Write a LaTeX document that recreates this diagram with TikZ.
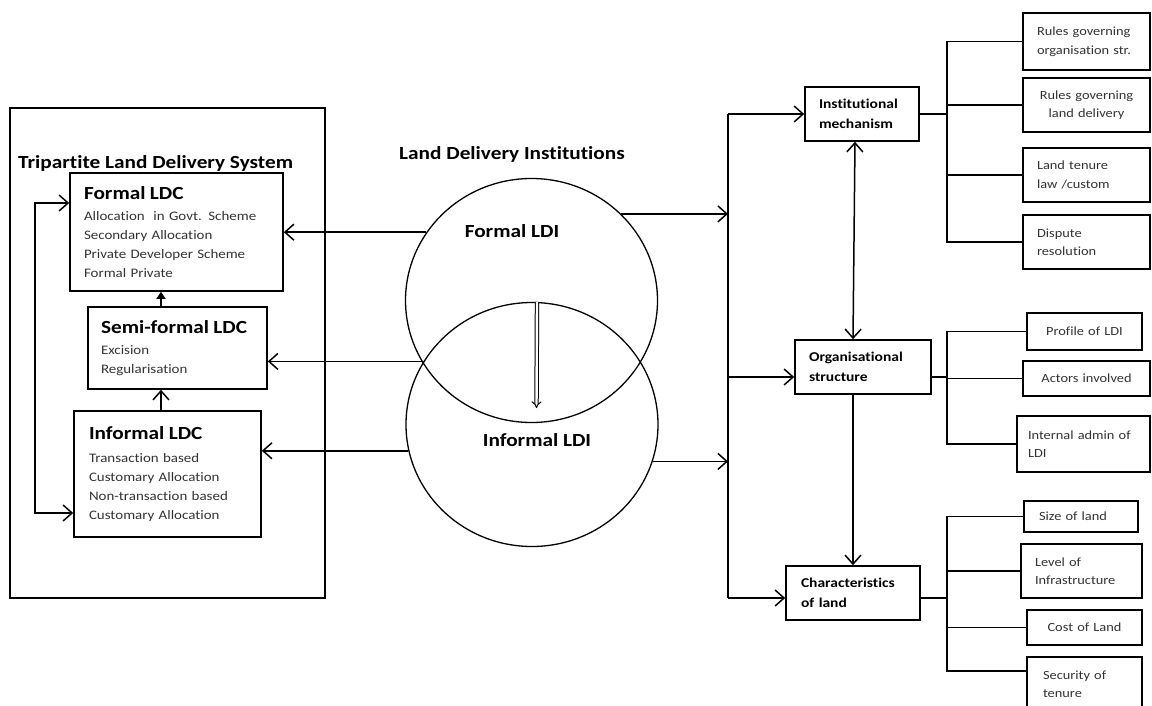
\documentclass[tikz,border=0pt]{standalone}
\usepackage{fontspec}
\setmainfont{Carlito}[FakeStretch=1.15, Ligatures={NoCommon}]
\usetikzlibrary{arrows.meta,shapes.geometric}
\definecolor{txt}{HTML}{333333}
\begin{document}
\begin{tikzpicture}[x=1pt,y=-1pt,
  every node/.style={inner sep=0pt},
  frame/.style={draw, line width=1.6pt},
  ttl/.style={font=\fontsize{18.5}{22}\selectfont\bfseries},
  ldc/.style={frame, align=left, font=\fontsize{13}{19}\selectfont, text=txt},
  mid/.style={frame, align=left, font=\fontsize{13.5}{20}\selectfont\bfseries, minimum height=54pt},
  leaf/.style={frame, font=\fontsize{12.5}{18.5}\selectfont, text=txt},
  circ/.style={draw, line width=1.3pt, ellipse, minimum width=252pt, minimum height=244pt},
  con/.style={line width=1.5pt},
  arr/.style={con, -{Straight Barb[length=9pt,width=16pt]}},
  dbl/.style={con, {Straight Barb[length=9pt,width=16pt]}-{Straight Barb[length=9pt,width=16pt]}}
]
\useasboundingbox (0,0) rectangle (1152,706);
\clip (0,0) rectangle (1152,706);

% left system frame
\node[frame, minimum width=315pt, minimum height=490pt] (tlds) at (167.5,353) {};
\node[ttl, anchor=west] (tldst) at (18,163) {Tripartite Land Delivery System};

\node[ldc, text width=185pt, inner xsep=14pt, minimum height=118pt] (fldc) at (176.5,232)
  {{\color{black}\fontsize{18.5}{22}\selectfont\bfseries Formal LDC}\\[2pt]
   Allocation\ \ in Govt. Scheme\\ Secondary Allocation\\ Private Developer Scheme\\ Formal Private};
\node[ldc, text width=153pt, inner xsep=13pt, minimum height=82pt] (sldc) at (177.5,348)
  {{\color{black}\fontsize{18.5}{22}\selectfont\bfseries Semi-formal LDC}\\[2pt]
   Excision\\ Regularisation};
\node[ldc, text width=157pt, inner xsep=15pt, minimum height=126pt] (ildc) at (167.5,474)
  {{\color{black}\fontsize{18.5}{22}\selectfont\bfseries Informal LDC}\\[4pt]
   Transaction based\\ Customary Allocation\\ Non-transaction based\\ Customary Allocation};

% circles
\node[ttl, anchor=west] (ldit) at (399,154) {Land Delivery Institutions};
\node[circ] (fldi) at (531.5,300.5) {};
\node[circ] (ildi) at (532,424.5) {};
\node[ttl] (fldil) at (512,231) {Formal LDI};
\node[ttl] (ildil) at (537,440) {Informal LDI};

% middle column
\node[mid, text width=86pt, inner xsep=14pt] (inst) at (862,114) {Institutional\\mechanism};
\node[mid, text width=108pt, inner xsep=14pt] (org) at (863,367) {Organisational\\structure};
\node[mid, text width=104pt, inner xsep=15pt] (char) at (853,593) {Characteristics\\of land};

% leaves
\node[leaf, align=left, text width=99pt, inner xsep=14pt, minimum height=57pt] (r1) at (1086.5,41.5) {Rules governing\\organisation str.};
\node[leaf, align=center, text width=99pt, inner xsep=14pt, minimum height=54pt] (r2) at (1086.5,105) {Rules governing\\land delivery};
\node[leaf, align=left, text width=99pt, inner xsep=14pt, minimum height=54pt] (r3) at (1086.5,175) {Land tenure\\law /custom};
\node[leaf, align=left, text width=99pt, inner xsep=14pt, minimum height=54pt] (r4) at (1086.5,242) {Dispute\\resolution};

\node[leaf, align=center, text width=95pt, inner xsep=10pt, minimum height=37pt] (o1) at (1084.5,331.5) {Profile of LDI};
\node[leaf, align=center, text width=107pt, inner xsep=10pt, minimum height=35pt] (o2) at (1086.5,378.5) {Actors involved};
\node[leaf, align=left, text width=111pt, inner xsep=11pt, minimum height=56pt] (o3) at (1083.5,444) {Internal admin of\\LDI};

\node[leaf, align=left, text width=84pt, inner xsep=15pt, minimum height=31pt] (c1) at (1081,516.5) {Size of land};
\node[leaf, align=left, text width=93pt, inner xsep=14pt, minimum height=54pt] (c2) at (1081.5,571) {Level of\\Infrastructure};
\node[leaf, align=center, text width=95pt, inner xsep=10pt, minimum height=35pt] (c3) at (1084.5,627.5) {Cost of Land};
\node[leaf, align=left, text width=83pt, inner xsep=16pt, minimum height=54pt] (c4) at (1084.5,684) {Security of\\tenure};

% coordinates
\coordinate (vx) at (161,0);
\coordinate (bx) at (728,0);
\coordinate (jx) at (947,0);
\coordinate (bt) at (728,114);
\coordinate (bb) at (728,598);
\coordinate (orgio) at ([yshift=-10pt]org.west);
\coordinate (orgout) at ([yshift=-10pt]org.east);
\coordinate (charin) at ([yshift=-5pt]char.west);
\coordinate (charout) at ([yshift=-5pt]char.east);
\coordinate (c4in) at ([yshift=13pt]c4.west);

% left connectors
\draw[con, -{Triangle[length=7pt,width=9pt]}] (vx |- sldc.north) -- (vx |- fldc.south);
\draw[arr] (vx |- ildc.north) -- (vx |- sldc.south);
\draw[dbl] ([yshift=29pt]fldc.west) -- ++(-34,0) |- ([yshift=-39pt]ildc.west);
\draw[arr] (fldi.147) -- (fldi.147 -| fldc.east);
\draw[arr] (fldi.209) -- (fldi.209 -| sldc.east);
\draw[arr] (ildi.192) -- (ildi.192 -| ildc.east);

% double arrow between circles
\draw[line width=1pt, double, double distance=2.4pt, -{Implies}] ([xshift=5pt]ildi.north) -- ([xshift=5pt,yshift=15pt]fldi.south);

% to bus
\draw[arr] (fldi.44) -- (fldi.44 -| bx);
\draw[arr] (ildi.343) -- (ildi.343 -| bx);
\draw[con] (bt) -- (bb);
\draw[arr] (bt) -- (inst.west);
\draw[arr] (orgio -| bx) -- (orgio);
\draw[arr] (bb) -- (charin);

% vertical between middle boxes
\draw[dbl] ([xshift=-7pt]inst.south) -- ([xshift=-10pt]org.north);
\draw[arr] ([xshift=-10pt]org.south) -- (char.north);

% brackets
\draw[con] (inst.east) -- (inst.east -| jx);
\draw[con] (r1.west) -- (r1.west -| jx) -- (r4.west -| jx) -- (r4.west);
\draw[con] (r2.west) -- (r2.west -| jx);
\draw[con] (r3.west) -- (r3.west -| jx);

\draw[con] (orgout) -- (orgout -| jx);
\draw[con] (o1.west) -- (o1.west -| jx) -- (o3.west -| jx) -- (o3.west);
\draw[con] (o2.west) -- (o2.west -| jx);

\draw[con] (charout) -- (charout -| jx);
\draw[con] (c1.west) -- (c1.west -| jx) -- (c4in -| jx) -- (c4in);
\draw[con] (c2.west) -- (c2.west -| jx);
\draw[con] (c3.west) -- (c3.west -| jx);
\end{tikzpicture}
\end{document}
